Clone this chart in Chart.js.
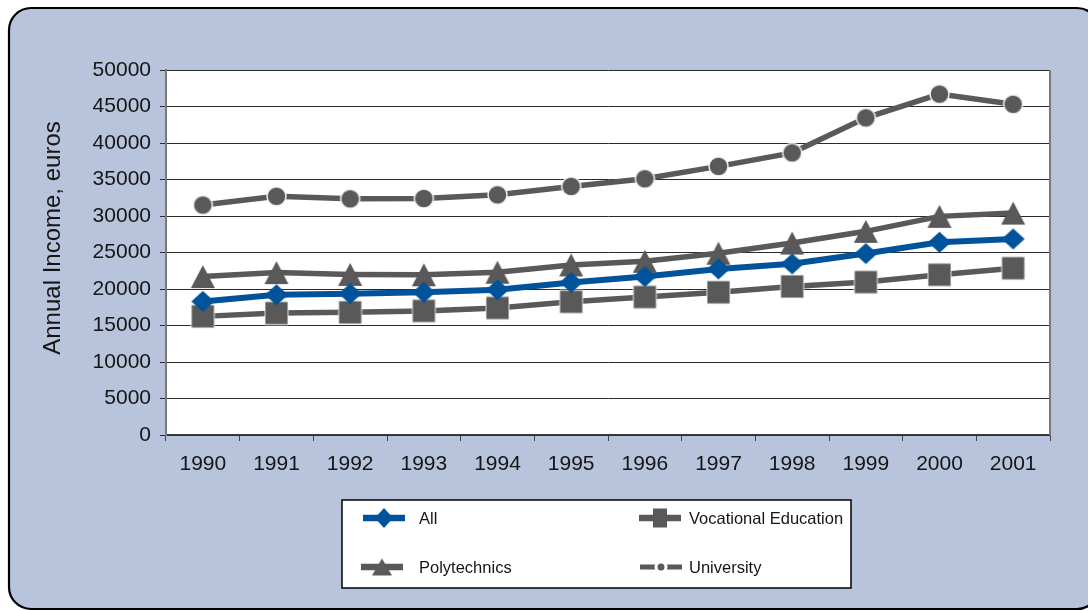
<!DOCTYPE html>
<html>
<head>
<meta charset="utf-8">
<script src="https://cdn.jsdelivr.net/npm/chart.js@4.4.1/dist/chart.umd.min.js"></script>
<style>
  html, body { margin: 0; padding: 0; background: #ffffff; }
  #chart { display: block; }
</style>
</head>
<body>
<canvas id="chart" width="1088" height="611"></canvas>
<script>
// Annual income by education level, 1990-2001 (euros)
const years = ['1990', '1991', '1992', '1993', '1994', '1995', '1996', '1997', '1998', '1999', '2000', '2001'];
const allValues = [18300, 19200, 19350, 19550, 19900, 20900, 21700, 22750, 23450, 24850, 26400, 26850];
const vocationalValues = [16250, 16700, 16800, 17000, 17400, 18250, 18900, 19550, 20350, 20950, 21950, 22850];
const polytechnicValues = [21700, 22250, 22000, 21950, 22300, 23300, 23800, 24900, 26300, 27900, 29950, 30400];
const universityValues = [31500, 32700, 32350, 32400, 32900, 34050, 35100, 36800, 38650, 43450, 46700, 45300];
const seriesNames = ['All', 'Vocational Education', 'Polytechnics', 'University'];
const yTickValues = [0, 5000, 10000, 15000, 20000, 25000, 30000, 35000, 40000, 45000, 50000];
const yTitle = 'Annual Income, euros';

const FONT = '"Liberation Sans", Arial, Helvetica, sans-serif';
const BLUE = '#00539b';
const GREY = '#595959';
const PANEL = '#b7c4dc';
const INK = '#151515';

// Marker images: drawn centred on each data point
function markerCanvas(shape, w, h, fill, outline, outlineWidth) {
  const pad = 3;
  const c = document.createElement('canvas');
  c.width = Math.round(w + pad * 2);
  c.height = Math.round(h + pad * 2);
  const g = c.getContext('2d');
  g.translate(c.width / 2, c.height / 2);
  g.beginPath();
  if (shape === 'diamond') {
    g.moveTo(0, -h / 2); g.lineTo(w / 2, 0); g.lineTo(0, h / 2); g.lineTo(-w / 2, 0);
  } else if (shape === 'square') {
    g.rect(-w / 2, -h / 2, w, h);
  } else if (shape === 'triangle') {
    g.moveTo(0, -h / 2); g.lineTo(w / 2, h / 2); g.lineTo(-w / 2, h / 2);
  } else {
    g.ellipse(0, 0, w / 2, h / 2, 0, 0, Math.PI * 2);
  }
  g.closePath();
  g.fillStyle = fill;
  g.fill();
  if (outline) {
    g.lineWidth = outlineWidth || 1;
    g.strokeStyle = outline;
    g.stroke();
  }
  return c;
}

const markers = {
  all: markerCanvas('diamond', 23, 21, BLUE),
  vocational: markerCanvas('square', 23, 23, GREY, 'rgba(235,235,235,0.9)', 1),
  poly: markerCanvas('triangle', 24, 23, GREY),
  university: markerCanvas('circle', 19, 19, GREY, 'rgba(245,245,245,0.95)', 1.5)
};
const legendMarkers = {
  all: markerCanvas('diamond', 18, 20, BLUE),
  vocational: markerCanvas('square', 14, 19, GREY),
  poly: markerCanvas('triangle', 20, 17, GREY),
  university: markerCanvas('circle', 10, 10, GREY, '#ffffff', 3)
};

const datasets = [
  { label: seriesNames[0], data: allValues, borderColor: BLUE, backgroundColor: BLUE,
    borderWidth: 6, pointStyle: markers.all, legendMarker: legendMarkers.all, legendLine: 6.5 },
  { label: seriesNames[1], data: vocationalValues, borderColor: GREY, backgroundColor: GREY,
    borderWidth: 5.5, pointStyle: markers.vocational, legendMarker: legendMarkers.vocational, legendLine: 6.5 },
  { label: seriesNames[2], data: polytechnicValues, borderColor: GREY, backgroundColor: GREY,
    borderWidth: 5.5, pointStyle: markers.poly, legendMarker: legendMarkers.poly, legendLine: 6.5 },
  { label: seriesNames[3], data: universityValues, borderColor: GREY, backgroundColor: GREY,
    borderWidth: 5.5, pointStyle: markers.university, legendMarker: legendMarkers.university, legendLine: 5 }
].map(d => Object.assign(d, { pointRadius: 10, pointHoverRadius: 10, tension: 0, fill: false }));

function roundRect(ctx, x, y, w, h, r) {
  ctx.beginPath();
  ctx.moveTo(x + r, y);
  ctx.lineTo(x + w - r, y);
  ctx.arcTo(x + w, y, x + w, y + r, r);
  ctx.lineTo(x + w, y + h - r);
  ctx.arcTo(x + w, y + h, x + w - r, y + h, r);
  ctx.lineTo(x + r, y + h);
  ctx.arcTo(x, y + h, x, y + h - r, r);
  ctx.lineTo(x, y + r);
  ctx.arcTo(x, y, x + r, y, r);
  ctx.closePath();
}

// Panel, plot background, frame, axis title and the boxed two-column legend
const decorations = {
  id: 'decorations',
  beforeDraw(chart) {
    const ctx = chart.ctx;
    const a = chart.chartArea;
    ctx.save();
    ctx.fillStyle = '#ffffff';
    ctx.fillRect(0, 0, chart.width, chart.height);
    roundRect(ctx, 9, 8, 1090, 601, 22);
    ctx.fillStyle = PANEL;
    ctx.fill();
    ctx.lineWidth = 2.2;
    ctx.strokeStyle = '#000000';
    ctx.stroke();
    ctx.fillStyle = '#ffffff';
    ctx.fillRect(a.left, a.top, a.right - a.left, a.bottom - a.top);
    ctx.restore();
  },
  afterDraw(chart) {
    const ctx = chart.ctx;
    const a = chart.chartArea;
    ctx.save();
    // right edge of the plot frame
    ctx.strokeStyle = '#7a7a7a';
    ctx.lineWidth = 2;
    ctx.beginPath();
    ctx.moveTo(a.right, a.top);
    ctx.lineTo(a.right, a.bottom);
    ctx.stroke();

    // y axis title
    ctx.translate(53, 238);
    ctx.rotate(-Math.PI / 2);
    ctx.font = '24px ' + FONT;
    ctx.fillStyle = INK;
    ctx.textAlign = 'center';
    ctx.textBaseline = 'middle';
    ctx.fillText(yTitle, 0, 0);
    ctx.restore();

    // legend box
    ctx.save();
    ctx.fillStyle = '#ffffff';
    ctx.fillRect(342, 500, 509, 88);
    ctx.strokeStyle = '#000000';
    ctx.lineWidth = 1.5;
    ctx.strokeRect(342, 500, 509, 88);
    const slots = [
      { cx: 384, y: 518, tx: 419 },
      { cx: 660, y: 518, tx: 689 },
      { cx: 382, y: 567, tx: 419 },
      { cx: 661, y: 567, tx: 689 }
    ];
    chart.data.datasets.forEach((ds, i) => {
      const s = slots[i];
      ctx.strokeStyle = ds.borderColor;
      ctx.lineWidth = ds.legendLine;
      ctx.beginPath();
      ctx.moveTo(s.cx - 21, s.y);
      ctx.lineTo(s.cx + 21, s.y);
      ctx.stroke();
      const m = ds.legendMarker;
      ctx.drawImage(m, s.cx - m.width / 2, s.y - m.height / 2);
      ctx.font = '16.5px ' + FONT;
      ctx.fillStyle = INK;
      ctx.textAlign = 'left';
      ctx.textBaseline = 'middle';
      ctx.fillText(ds.label, s.tx, s.y + 1);
    });
    ctx.restore();
  }
};

new Chart(document.getElementById('chart'), {
  type: 'line',
  data: { labels: years, datasets: datasets },
  options: {
    responsive: false,
    animation: false,
    devicePixelRatio: 1,
    layout: { padding: { top: 70, right: 38, bottom: 0, left: 0 } },
    plugins: {
      legend: { display: false },
      tooltip: { enabled: false },
      title: { display: false }
    },
    scales: {
      x: {
        type: 'category',
        offset: true,
        afterFit(scale) { scale.height = 176; },
        grid: {
          offset: true,
          drawOnChartArea: false,
          drawTicks: true,
          tickLength: 6,
          color: '#444444',
          lineWidth: 1
        },
        border: { display: true, color: '#3a3a3a', width: 1.5 },
        ticks: {
          padding: 11,
          color: INK,
          maxRotation: 0,
          autoSkip: false,
          font: { family: FONT, size: 21 }
        }
      },
      y: {
        min: 0,
        max: 50000,
        afterFit(scale) { scale.width = 166; },
        afterBuildTicks(scale) { scale.ticks = yTickValues.map(v => ({ value: v })); },
        grid: {
          drawTicks: true,
          tickLength: 6,
          color: '#2a2a2a',
          lineWidth: 1
        },
        border: { display: true, color: '#7a7a7a', width: 2 },
        ticks: {
          padding: 9,
          color: INK,
          font: { family: FONT, size: 21 },
          callback: (v) => String(v)
        }
      }
    }
  },
  plugins: [decorations]
});
</script>
</body>
</html>
